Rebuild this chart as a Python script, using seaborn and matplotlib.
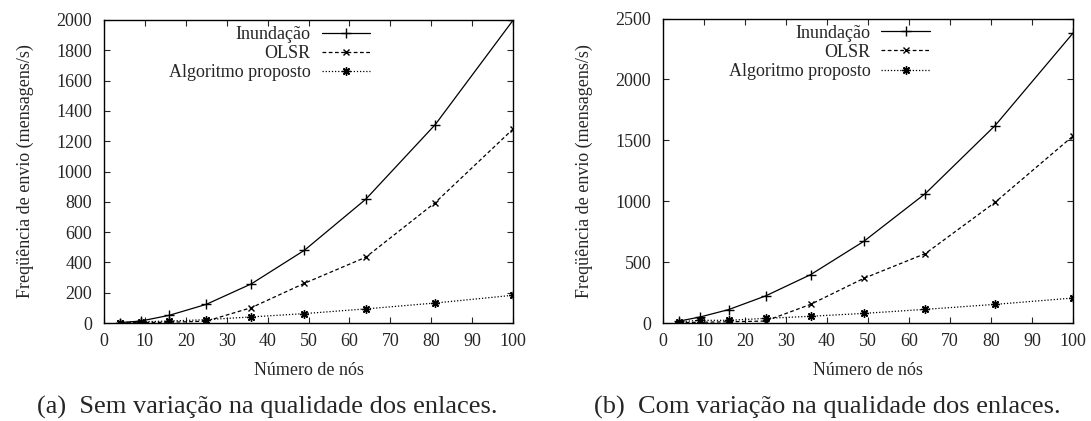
import numpy as np
import pandas as pd
import matplotlib
matplotlib.use("Agg")
import matplotlib.pyplot as plt
import seaborn as sns

nodes = [4, 9, 16, 25, 36, 49, 64, 81, 100]
series_names = ["Inundação", "OLSR", "Algoritmo proposto"]

# (a) Sem variação
a_inund = [3, 13, 51, 123, 258, 480, 817, 1310, 1998]
a_olsr = [1, 3, 5, 12, 101, 262, 434, 795, 1280]
a_alg = [2, 8, 13, 22, 40, 62, 93, 132, 183]

# (b) Com variação
b_inund = [16, 49, 110, 222, 397, 671, 1063, 1621, 2380]
b_olsr = [3, 6, 10, 16, 153, 367, 570, 991, 1535]
b_alg = [10, 22, 22, 38, 55, 79, 112, 153, 205]

yticks_a = [0, 200, 400, 600, 800, 1000, 1200, 1400, 1600, 1800, 2000]
yticks_b = [0, 500, 1000, 1500, 2000, 2500]
xticks = [0, 10, 20, 30, 40, 50, 60, 70, 80, 90, 100]

xlabel = "Número de nós"
ylabel = "Freqüência de envio (mensagens/s)"
captions = ["(a)  Sem variação na qualidade dos enlaces.",
            "(b)  Com variação na qualidade dos enlaces."]

sns.set_style("ticks")
plt.rcParams["font.family"] = ["Liberation Serif", "DejaVu Serif"]

W, H = 1091, 421
fig = plt.figure(figsize=(W / 100, H / 100), dpi=100)
ax1 = fig.add_axes([104 / W, 1 - 323 / H, 409 / W, 303 / H])
ax2 = fig.add_axes([663 / W, 1 - 323 / H, 410 / W, 304.5 / H])

styles = [
    dict(linestyle="-", marker="+", markersize=6.5),
    dict(linestyle=(0, (3, 2)), marker="x", markersize=5),
    dict(linestyle=(0, (1, 1.5)), marker=(8, 2, 0), markersize=6),
]

def draw(ax, data, yticks, ymax, caption, cx):
    for name, vals, st in zip(series_names, data, styles):
        df = pd.DataFrame({"x": nodes, "y": vals})
        sns.lineplot(data=df, x="x", y="y", ax=ax, color="black", lw=0.9,
                     label=name, markeredgewidth=1.0, markerfacecolor="black",
                     markeredgecolor="black", **st)
    ax.set_xlim(0, 100)
    ax.set_ylim(0, ymax)
    ax.set_xticks(xticks)
    ax.set_yticks(yticks)
    ax.tick_params(direction="in", top=True, right=True, length=4, width=0.8,
                   labelsize=13)
    ax.tick_params(axis="y", pad=8.5)
    ax.tick_params(axis="x", pad=7)
    for s in ax.spines.values():
        s.set_linewidth(1.0)
        s.set_color("black")
    ax.set_xlabel(xlabel, fontsize=13, labelpad=9)
    ax.set_ylabel(ylabel, fontsize=13, labelpad=16)
    ax.legend(loc="upper right", bbox_to_anchor=(0.651, 0.98), frameon=False,
              markerfirst=False, alignment="right", fontsize=13,
              handlelength=2.7, handletextpad=0.6, labelspacing=0.12,
              borderaxespad=0.0, borderpad=0.0)
    fig.text(cx / W, 1 - 414 / H, caption, ha="center", va="baseline",
             fontsize=19)

draw(ax1, [a_inund, a_olsr, a_alg], yticks_a, 2000, captions[0], 267)
draw(ax2, [b_inund, b_olsr, b_alg], yticks_b, 2500, captions[1], 827)

fig.savefig("out.png", dpi=100)
